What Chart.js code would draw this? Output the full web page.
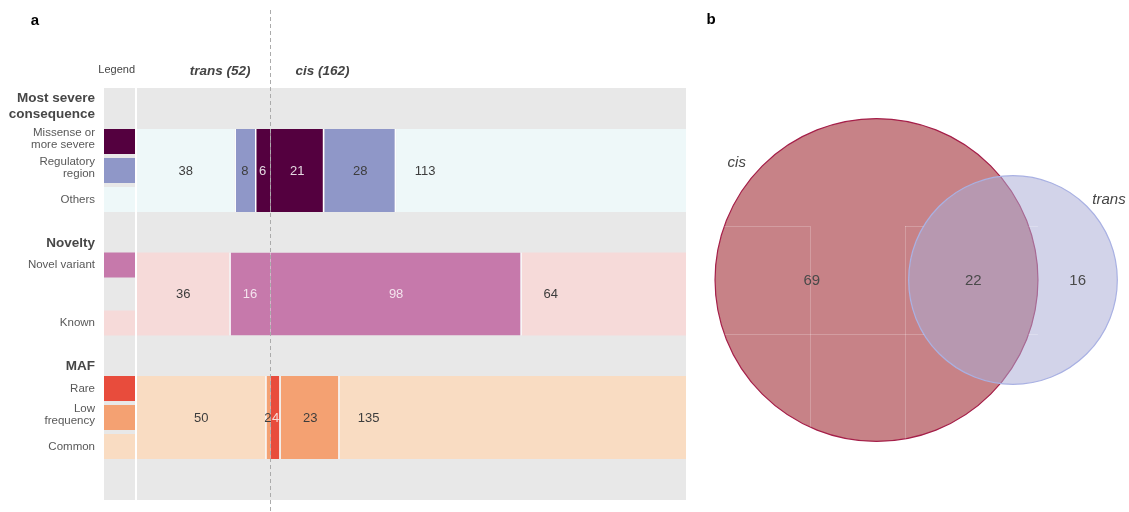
<!DOCTYPE html>
<html>
<head>
<meta charset="utf-8">
<script src="https://cdn.jsdelivr.net/npm/chart.js@4.4.1/dist/chart.umd.min.js"></script>
<style>
  html, body { margin: 0; padding: 0; background: #ffffff; }
  #wrap { position: relative; width: 1129px; height: 512px; overflow: hidden; }
  #barCanvas { position: absolute; left: 0; top: 0; }
  #vennCanvas { position: absolute; left: 700px; top: 0; }
</style>
</head>
<body>
<div id="wrap">
  <canvas id="barCanvas" width="700" height="512"></canvas>
  <canvas id="vennCanvas" width="429" height="512"></canvas>
</div>
<script>
// ---- Variant annotation counts, trans vs cis ----
const rowTitles = ['Most severe consequence', 'Novelty', 'MAF'];
const sideNames = ['trans', 'cis'];

const consequenceLabels = ['Missense or more severe', 'Regulatory region', 'Others'];
const consequenceTrans = [6, 8, 38];
const consequenceCis = [21, 28, 113];

const noveltyLabels = ['Novel variant', 'Known'];
const noveltyTrans = [16, 36];
const noveltyCis = [98, 64];

const mafLabels = ['Rare', 'Low frequency', 'Common'];
const mafTrans = [0, 2, 50];
const mafCis = [4, 23, 135];

// ---- Overlap of the two variant sets ----
const vennSetLabels = ['cis', 'trans'];
const vennRegionCounts = [69, 22, 16]; // cis only, shared, trans only

// ---- Styling ----
const FONT = '"Liberation Sans", Arial, Helvetica, sans-serif';
const rowStyles = [
  { colors: ['#54003f', '#8f97c8', '#eef8f9'], ink: ['#e4d8e1', '#3d3d3d', '#3d3d3d'], slots: [0, 1, 2] },
  { colors: ['#c679ab', '#f6dad9'], ink: ['#f4e3ee', '#3d3d3d'], slots: [0, 2] },
  { colors: ['#e84c3c', '#f4a172', '#f9dcc2'], ink: ['#f8dcd7', '#3d3d3d', '#3d3d3d'], slots: [0, 1, 2] }
];

const rowsData = [
  { title: rowTitles[0], cats: consequenceLabels, trans: consequenceTrans, cis: consequenceCis },
  { title: rowTitles[1], cats: noveltyLabels, trans: noveltyTrans, cis: noveltyCis },
  { title: rowTitles[2], cats: mafLabels, trans: mafTrans, cis: mafCis }
];

const sum = a => a.reduce((s, v) => s + v, 0);
const transTotal = Math.max(...rowsData.map(r => sum(r.trans)));
const cisTotal = Math.max(...rowsData.map(r => sum(r.cis)));

// One dataset per segment; trans grows leftwards from zero, cis rightwards.
const barDatasets = [];
rowsData.forEach((row, r) => {
  row.cats.forEach((cat, k) => {
    [[sideNames[0], row.trans[k], -1], [sideNames[1], row.cis[k], 1]].forEach(([side, v, sign]) => {
      if (!v) return;
      const outer = k === row.cats.length - 1;
      barDatasets.push({
        label: cat + ' (' + side + ')',
        data: [{ x: sign * v, y: r }],
        backgroundColor: rowStyles[r].colors[k],
        borderWidth: outer ? 0 : { left: 1.5, right: 1.5, top: 0, bottom: 0 },
        row: r, cat: k, side: side, value: v, outer: outer,
        ink: rowStyles[r].ink[k]
      });
    });
  });
});

function wrapText(ctx, text, maxWidth) {
  const words = text.split(' ');
  const lines = [];
  let line = '';
  for (const w of words) {
    const t = line ? line + ' ' + w : w;
    if (line && ctx.measureText(t).width > maxWidth) { lines.push(line); line = w; }
    else line = t;
  }
  if (line) lines.push(line);
  return lines;
}

function rowBoxes(chart) {
  const boxes = rowsData.map(() => null);
  chart.data.datasets.forEach((ds, i) => {
    const el = chart.getDatasetMeta(i).data[0];
    if (el && !boxes[ds.row]) {
      const p = el.getProps(['y', 'height'], true);
      boxes[ds.row] = { cy: p.y, h: p.height, top: p.y - p.height / 2 };
    }
  });
  return boxes;
}

const panelA = {
  id: 'panelA',
  beforeDatasetsDraw(chart) {
    const { ctx, chartArea: a } = chart;
    const legendLeft = a.left - 33;
    ctx.save();
    ctx.fillStyle = '#e8e8e8';
    ctx.fillRect(legendLeft, a.top, a.right - legendLeft, a.bottom - a.top);
    ctx.fillStyle = '#ffffff';
    ctx.fillRect(a.left - 2, a.top, 2, a.bottom - a.top);

    // legend swatches beside each bar
    const boxes = rowBoxes(chart);
    const gap = 4;
    boxes.forEach((b, r) => {
      const h = (b.h - 2 * gap) / 3;
      rowStyles[r].slots.forEach((slot, k) => {
        ctx.fillStyle = rowStyles[r].colors[k];
        ctx.fillRect(legendLeft, b.top + slot * (h + gap), 31, h);
      });
    });
    ctx.restore();
  },
  afterDatasetsDraw(chart) {
    const { ctx, chartArea: a, scales } = chart;
    const x0 = scales.x.getPixelForValue(0);
    const legendLeft = a.left - 33;
    ctx.save();

    // zero line between trans and cis
    ctx.strokeStyle = '#ababab';
    ctx.lineWidth = 1;
    ctx.setLineDash([4, 3]);
    ctx.beginPath();
    ctx.moveTo(Math.round(x0) + 0.5, 10);
    ctx.lineTo(Math.round(x0) + 0.5, chart.height);
    ctx.stroke();
    ctx.setLineDash([]);

    // segment counts
    ctx.font = '13px ' + FONT;
    ctx.textBaseline = 'middle';
    ctx.textAlign = 'center';
    chart.data.datasets.forEach((ds, i) => {
      const el = chart.getDatasetMeta(i).data[0];
      const p = el.getProps(['x', 'y', 'base'], true);
      let tx = (p.x + p.base) / 2;
      if (ds.outer && ds.side === 'cis') tx = p.base + 29;
      ctx.fillStyle = ds.ink;
      ctx.fillText(String(ds.value), tx, p.y + 0.5);
    });

    // column headers
    ctx.fillStyle = '#444444';
    ctx.font = '11px ' + FONT;
    ctx.textAlign = 'right';
    ctx.fillText('Legend', a.left - 2, 70);
    ctx.font = 'italic bold 13.5px ' + FONT;
    ctx.fillText(sideNames[0] + ' (' + transTotal + ')', x0 - 20, 71);
    ctx.textAlign = 'left';
    ctx.fillText(sideNames[1] + ' (' + cisTotal + ')', x0 + 25, 71);

    // row titles and category names
    const boxes = rowBoxes(chart);
    const textRight = legendLeft - 9;
    const gap = 4;
    ctx.textAlign = 'right';
    boxes.forEach((b, r) => {
      ctx.font = 'bold 13.5px ' + FONT;
      ctx.fillStyle = '#474747';
      ctx.textBaseline = 'alphabetic';
      const tl = wrapText(ctx, rowsData[r].title, 85);
      const lastBase = b.top - 6 - 5 * (tl.length - 1);
      tl.forEach((line, j) => ctx.fillText(line, textRight, lastBase - (tl.length - 1 - j) * 16));

      ctx.font = '11.5px ' + FONT;
      ctx.fillStyle = '#585858';
      ctx.textBaseline = 'middle';
      const h = (b.h - 2 * gap) / 3;
      rowsData[r].cats.forEach((cat, k) => {
        const slot = rowStyles[r].slots[k];
        const cy = b.top + slot * (h + gap) + h / 2;
        const lines = wrapText(ctx, cat, 70);
        const mid = lines.length > 1 ? cy - 3 : cy;
        lines.forEach((line, j) => ctx.fillText(line, textRight, mid + (j - (lines.length - 1) / 2) * 12));
      });
    });

    // panel letter
    ctx.fillStyle = '#000000';
    ctx.font = 'bold 15px ' + FONT;
    ctx.textAlign = 'center';
    ctx.textBaseline = 'middle';
    ctx.fillText('a', 35, 21);
    ctx.restore();
  }
};

new Chart(document.getElementById('barCanvas'), {
  type: 'bar',
  data: { datasets: barDatasets },
  options: {
    indexAxis: 'y',
    responsive: false,
    animation: false,
    devicePixelRatio: 1,
    events: [],
    layout: { padding: { left: 137, right: 14, top: 88, bottom: 12 } },
    datasets: {
      bar: {
        categoryPercentage: 1,
        barPercentage: 0.672,
        borderColor: '#ffffff',
        borderSkipped: 'start',
        inflateAmount: 0
      }
    },
    scales: {
      x: { type: 'linear', stacked: true, min: -transTotal, max: cisTotal, display: false },
      y: {
        type: 'linear', stacked: true, reverse: true, offset: false,
        min: -0.668, max: rowTitles.length - 1 + 0.668, display: false,
        afterBuildTicks: s => { s.ticks = rowTitles.map((_, i) => ({ value: i })); }
      }
    },
    plugins: { legend: { display: false }, tooltip: { enabled: false } }
  },
  plugins: [panelA]
});

// ---- Area-proportional two-set Venn ----
const cisSize = vennRegionCounts[0] + vennRegionCounts[1];
const transSize = vennRegionCounts[2] + vennRegionCounts[1];
const rCis = Math.sqrt(cisSize / Math.PI);
const rTrans = Math.sqrt(transSize / Math.PI);

function lensArea(d, r1, r2) {
  if (d >= r1 + r2) return 0;
  if (d <= Math.abs(r1 - r2)) return Math.PI * Math.min(r1, r2) ** 2;
  const a1 = Math.acos((d * d + r1 * r1 - r2 * r2) / (2 * d * r1));
  const a2 = Math.acos((d * d + r2 * r2 - r1 * r1) / (2 * d * r2));
  const k = Math.sqrt((-d + r1 + r2) * (d + r1 - r2) * (d - r1 + r2) * (d + r1 + r2));
  return r1 * r1 * a1 + r2 * r2 * a2 - 0.5 * k;
}
let lo = Math.abs(rCis - rTrans), hi = rCis + rTrans;
for (let i = 0; i < 80; i++) {
  const mid = (lo + hi) / 2;
  if (lensArea(mid, rCis, rTrans) > vennRegionCounts[1]) lo = mid; else hi = mid;
}
const centreGap = (lo + hi) / 2;

const pxPerUnit = chart => chart.scales.x.getPixelForValue(1) - chart.scales.x.getPixelForValue(0);

const panelB = {
  id: 'panelB',
  afterDatasetsDraw(chart) {
    const { ctx, scales } = chart;
    const X = v => scales.x.getPixelForValue(v);
    const Y = v => scales.y.getPixelForValue(v);
    const u = pxPerUnit(chart);
    ctx.save();

    // faint guide lines inside the cis-only region
    ctx.save();
    ctx.beginPath();
    ctx.arc(X(0), Y(0), rCis * u, 0, Math.PI * 2);
    ctx.moveTo(X(centreGap) + rTrans * u, Y(0));
    ctx.arc(X(centreGap), Y(0), rTrans * u, 0, Math.PI * 2);
    ctx.clip('evenodd');
    ctx.strokeStyle = 'rgba(255,255,255,0.22)';
    ctx.lineWidth = 1;
    const gx = [-2.217, 0.95], gy = [1.8, -1.8];
    ctx.beginPath();
    gx.forEach(v => { ctx.moveTo(Math.round(X(v)) + 0.5, Y(gy[0])); ctx.lineTo(Math.round(X(v)) + 0.5, Y(-rCis)); });
    ctx.moveTo(X(-rCis), Math.round(Y(gy[1])) + 0.5); ctx.lineTo(X(rCis), Math.round(Y(gy[1])) + 0.5);
    ctx.moveTo(X(-rCis), Math.round(Y(gy[0])) + 0.5); ctx.lineTo(X(gx[0]), Math.round(Y(gy[0])) + 0.5);
    ctx.moveTo(X(gx[1]), Math.round(Y(gy[0])) + 0.5); ctx.lineTo(X(rCis), Math.round(Y(gy[0])) + 0.5);
    ctx.stroke();
    ctx.restore();

    // region counts on the centre line
    const regionX = [
      (-rCis + (centreGap - rTrans)) / 2,
      ((centreGap - rTrans) + rCis) / 2,
      (rCis + centreGap + rTrans) / 2
    ];
    ctx.fillStyle = '#4a4a4a';
    ctx.font = '15px ' + FONT;
    ctx.textAlign = 'center';
    ctx.textBaseline = 'middle';
    vennRegionCounts.forEach((n, i) => ctx.fillText(String(n), X(regionX[i]), Y(0) + 1));

    // set names outside each circle
    const ang = 40 * Math.PI / 180;
    const pad = 0.7;
    ctx.font = 'italic 15px ' + FONT;
    ctx.fillStyle = '#444444';
    ctx.fillText(vennSetLabels[0], X(-(rCis + pad) * Math.cos(ang)), Y((rCis + pad) * Math.sin(ang)));
    ctx.fillText(vennSetLabels[1], X(centreGap + (rTrans + pad) * Math.cos(ang)), Y((rTrans + pad) * Math.sin(ang)));

    ctx.fillStyle = '#000000';
    ctx.font = 'bold 15px ' + FONT;
    ctx.fillText('b', 11, 20);
    ctx.restore();
  }
};

// trans is listed first so that it is painted on top of cis
new Chart(document.getElementById('vennCanvas'), {
  type: 'scatter',
  data: {
    datasets: [
      {
        label: vennSetLabels[1],
        data: [{ x: centreGap, y: 0 }],
        pointRadius: ctx => rTrans * pxPerUnit(ctx.chart),
        pointBackgroundColor: 'rgba(170,172,213,0.53)',
        pointBorderColor: '#a9b1e3',
        pointBorderWidth: 1.2
      },
      {
        label: vennSetLabels[0],
        data: [{ x: 0, y: 0 }],
        pointRadius: ctx => rCis * pxPerUnit(ctx.chart),
        pointBackgroundColor: 'rgba(162,47,55,0.6)',
        pointBorderColor: '#a51f49',
        pointBorderWidth: 1.2
      }
    ]
  },
  options: {
    responsive: false,
    animation: false,
    devicePixelRatio: 1,
    events: [],
    layout: { padding: 0 },
    scales: {
      x: { type: 'linear', min: -5.8833, max: 8.4167, display: false },
      y: { type: 'linear', min: -7.7333, max: 9.3333, display: false }
    },
    plugins: { legend: { display: false }, tooltip: { enabled: false } }
  },
  plugins: [panelB]
});
</script>
</body>
</html>
